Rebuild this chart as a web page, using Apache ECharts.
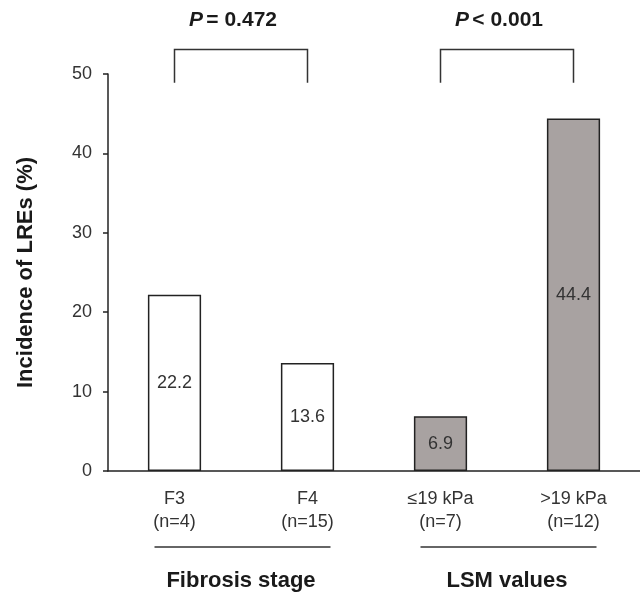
<!DOCTYPE html>
<html>
<head>
<meta charset="utf-8">
<script src="https://cdn.jsdelivr.net/npm/echarts@6/dist/echarts.min.js"></script>
<style>
  html, body { margin: 0; padding: 0; background: #fff; }
  #chart { width: 640px; height: 600px; }
</style>
</head>
<body>
<div id="chart"></div>
<script>
// categories and values
const categories = ['F3\n(n=4)', 'F4\n(n=15)', '≤19 kPa\n(n=7)', '>19 kPa\n(n=12)'];
const incidence = [22.2, 13.6, 6.9, 44.4];
const barFill = ['#ffffff', '#ffffff', '#a8a2a1', '#a8a2a1'];
const yMin = 0, yMax = 50, yStep = 10;

// groups under the axis and the p-values above them
const groupNames = ['Fibrosis stage', 'LSM values'];
const groupSpans = [[0, 1], [2, 3]];
const pTexts = ['= 0.472', '< 0.001'];

const font = 'Liberation Sans, Arial, sans-serif';
const ink = '#222';

const chart = echarts.init(document.getElementById('chart'));
chart.setOption({
  animation: false,
  grid: { left: 108, right: 0, top: 74, bottom: 129 },
  xAxis: {
    type: 'category',
    data: categories,
    axisLine: { lineStyle: { color: ink, width: 1.5 } },
    axisTick: { length: 5, lineStyle: { color: ink, width: 1.5 } },
    axisLabel: {
      color: '#333', fontSize: 18, fontFamily: font,
      lineHeight: 23, margin: 17
    }
  },
  yAxis: {
    type: 'value',
    min: yMin, max: yMax, interval: yStep,
    name: 'Incidence of LREs (%)',
    nameLocation: 'middle',
    nameGap: 71,
    nameTextStyle: { color: '#1a1a1a', fontSize: 22, fontWeight: 'bold', fontFamily: font },
    axisLine: { show: true, lineStyle: { color: ink, width: 1.5 } },
    axisTick: { show: true, length: 5, lineStyle: { color: ink, width: 1.5 } },
    axisLabel: { color: '#333', fontSize: 18, fontFamily: font, margin: 16 },
    splitLine: { show: false }
  },
  series: [{
    type: 'bar',
    barWidth: '40%',
    data: incidence.map((v, i) => ({
      value: v,
      itemStyle: { color: barFill[i] }
    })),
    itemStyle: { borderColor: ink, borderWidth: 1.5 },
    label: {
      show: true, position: 'inside',
      color: '#333', fontSize: 18, fontFamily: font
    }
  }]
});

// brackets, p-values and group labels placed through the axes
const px = (i, v) => chart.convertToPixel({ xAxisIndex: 0, yAxisIndex: 0 }, [i, v]);
const g = [];
groupSpans.forEach((span, k) => {
  const a = px(span[0], 53.1), b = px(span[1], 53.1);
  const lo = px(span[0], 48.9)[1];
  g.push({
    type: 'polyline',
    shape: { points: [[a[0], lo], [a[0], a[1]], [b[0], b[1]], [b[0], lo]] },
    style: { stroke: '#333', lineWidth: 1.5, fill: null }
  });
  const mid = (a[0] + b[0]) / 2;
  g.push({
    type: 'text',
    x: mid - 8, y: 20,
    style: {
      text: '{p|P} {t|' + pTexts[k] + '}',
      rich: {
        p: { fontStyle: 'italic', fontWeight: 'bold', fontSize: 21, fontFamily: font, fill: '#1a1a1a' },
        t: { fontWeight: 'bold', fontSize: 21, fontFamily: font, fill: '#1a1a1a' }
      },
      align: 'center', verticalAlign: 'middle'
    }
  });
  g.push({
    type: 'line',
    shape: { x1: a[0] - 20, y1: 547, x2: b[0] + 23, y2: 547 },
    style: { stroke: '#333', lineWidth: 1.5 }
  });
  g.push({
    type: 'text',
    x: mid, y: 581,
    style: {
      text: groupNames[k], fill: '#1a1a1a',
      font: 'bold 22px ' + font,
      align: 'center', verticalAlign: 'middle'
    }
  });
});
chart.setOption({ graphic: g });
</script>
</body>
</html>
